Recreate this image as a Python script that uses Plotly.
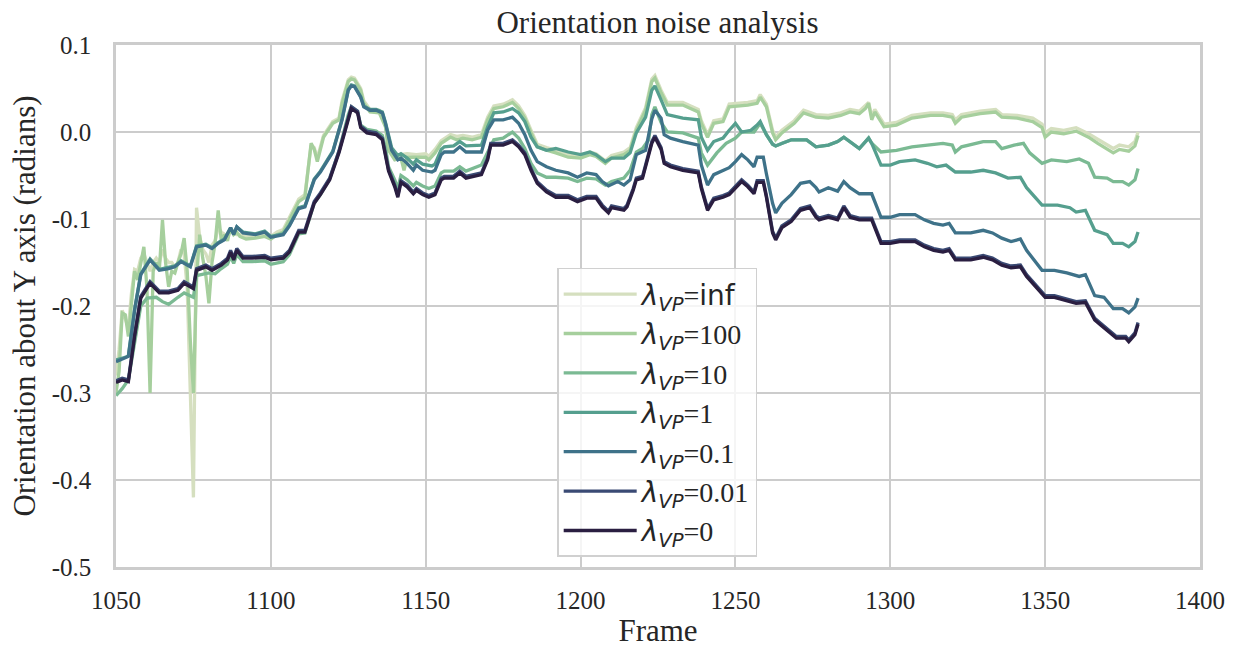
import plotly.graph_objects as go

# ---- data (frame, orientation) ----
pts_inf = [
    (1050, -0.280), (1051, -0.250), (1052, -0.205), (1053, -0.215), (1054, -0.225), (1055, -0.185),
    (1056, -0.158), (1057, -0.160), (1058, -0.145), (1059, -0.140), (1060, -0.150), (1061, -0.160),
    (1062, -0.150), (1063, -0.145), (1064, -0.150), (1065, -0.135), (1066, -0.145), (1067, -0.150),
    (1068, -0.150), (1069, -0.155), (1070, -0.150), (1071, -0.135), (1072, -0.140), (1073, -0.180),
    (1074, -0.300), (1075, -0.420), (1076, -0.087), (1077, -0.120), (1078, -0.135), (1079, -0.140),
    (1080, -0.150), (1081, -0.130), (1082, -0.125), (1083, -0.110), (1084, -0.115), (1085, -0.118),
    (1086, -0.120), (1087, -0.112), (1088, -0.115), (1089, -0.118), (1090, -0.118),
    (1092, -0.120), (1095, -0.119), (1098, -0.117), (1100, -0.120), (1102, -0.115), (1104, -0.112),
    (1106, -0.098), (1109, -0.077), (1111, -0.072), (1112, -0.045), (1113, -0.015), (1114, -0.018),
    (1115, -0.030), (1117, -0.004), (1120, 0.012), (1122, 0.016), (1123, 0.036), (1125, 0.060),
    (1126, 0.063), (1127, 0.062), (1129, 0.050), (1130, 0.036), (1132, 0.026), (1135, 0.025),
    (1137, 0.009), (1138, -0.018), (1140, -0.028), (1142, -0.026), (1144, -0.025), (1147, -0.026),
    (1150, -0.025), (1151, -0.028), (1153, -0.020), (1155, -0.010), (1158, -0.003), (1160, -0.005),
    (1162, -0.004), (1165, -0.006), (1168, -0.003), (1170, 0.017), (1172, 0.030), (1175, 0.032),
    (1178, 0.037), (1180, 0.030), (1182, 0.019), (1184, 0.002), (1186, -0.014), (1189, -0.018),
    (1192, -0.021), (1196, -0.026), (1200, -0.027), (1203, -0.023), (1205, -0.025), (1208, -0.033),
    (1210, -0.027), (1214, -0.023), (1216, -0.018), (1218, 0.005), (1219, 0.013), (1221, 0.028),
    (1223, 0.061), (1224, 0.065), (1226, 0.048), (1228, 0.034), (1233, 0.034), (1238, 0.026),
    (1239, 0.013), (1241, -0.003), (1243, 0.013), (1246, 0.015), (1248, 0.032), (1254, 0.034),
    (1257, 0.036), (1258, 0.043), (1260, 0.032), (1262, 0.002), (1263, -0.006), (1265, 0.002),
    (1269, 0.013), (1272, 0.025), (1276, 0.020), (1280, 0.019), (1284, 0.022), (1287, 0.026),
    (1290, 0.024), (1292, 0.030), (1293, 0.034), (1294, 0.018), (1295, 0.026), (1298, 0.009),
    (1302, 0.011), (1307, 0.019), (1313, 0.022), (1317, 0.022), (1320, 0.020), (1321, 0.014),
    (1323, 0.020), (1329, 0.024), (1334, 0.026), (1336, 0.020), (1341, 0.019), (1346, 0.016),
    (1349, 0.009), (1350, -0.001), (1352, 0.004), (1356, 0.002), (1360, 0.005), (1364, -0.002),
    (1367, -0.008), (1370, -0.014), (1372, -0.019), (1374, -0.015), (1377, -0.017), (1379, -0.011),
    (1380, 0.000),
]

pts_100 = [
    (1050, -0.300), (1051, -0.275), (1052, -0.208), (1053, -0.210), (1054, -0.235), (1055, -0.195),
    (1056, -0.160), (1057, -0.170), (1058, -0.150), (1059, -0.132), (1060, -0.180), (1061, -0.300),
    (1062, -0.160), (1063, -0.150), (1064, -0.158), (1065, -0.101), (1066, -0.150), (1067, -0.178),
    (1068, -0.160), (1069, -0.162), (1070, -0.150), (1071, -0.140), (1072, -0.122), (1073, -0.160),
    (1074, -0.240), (1075, -0.300), (1076, -0.170), (1077, -0.118), (1078, -0.145), (1079, -0.165),
    (1080, -0.197), (1081, -0.150), (1082, -0.128), (1083, -0.090), (1084, -0.125), (1085, -0.118),
    (1086, -0.125), (1087, -0.110), (1088, -0.118), (1089, -0.115), (1090, -0.120),
    (1092, -0.123), (1095, -0.122), (1098, -0.120), (1100, -0.123), (1102, -0.118), (1104, -0.115),
    (1106, -0.101), (1109, -0.080), (1111, -0.075), (1112, -0.040), (1113, -0.013), (1114, -0.020),
    (1115, -0.034), (1117, -0.006), (1120, 0.010), (1122, 0.014), (1123, 0.033), (1125, 0.058),
    (1126, 0.061), (1127, 0.060), (1129, 0.048), (1130, 0.033), (1132, 0.023), (1135, 0.022),
    (1137, 0.006), (1138, -0.021), (1140, -0.032), (1142, -0.030), (1143, -0.044), (1144, -0.029),
    (1147, -0.029), (1150, -0.029), (1151, -0.032), (1153, -0.024), (1155, -0.013), (1158, -0.006),
    (1160, -0.009), (1162, -0.007), (1165, -0.009), (1168, -0.006), (1170, 0.014), (1172, 0.027),
    (1175, 0.029), (1178, 0.034), (1180, 0.027), (1182, 0.016), (1184, -0.001), (1186, -0.017),
    (1189, -0.021), (1192, -0.024), (1196, -0.029), (1200, -0.030), (1203, -0.026), (1205, -0.028),
    (1208, -0.036), (1210, -0.030), (1214, -0.026), (1216, -0.021), (1218, 0.002), (1219, 0.010),
    (1221, 0.025), (1223, 0.058), (1224, 0.062), (1226, 0.045), (1228, 0.031), (1233, 0.031),
    (1238, 0.023), (1239, 0.010), (1241, -0.006), (1243, 0.010), (1246, 0.012), (1248, 0.029),
    (1254, 0.031), (1257, 0.033), (1258, 0.040), (1260, 0.029), (1262, -0.001), (1263, -0.009),
    (1265, -0.001), (1269, 0.010), (1272, 0.022), (1276, 0.017), (1280, 0.016), (1284, 0.019),
    (1287, 0.023), (1290, 0.021), (1292, 0.027), (1293, 0.033), (1294, 0.014), (1295, 0.023),
    (1298, 0.006), (1302, 0.008), (1307, 0.016), (1313, 0.019), (1317, 0.019), (1320, 0.017),
    (1321, 0.010), (1323, 0.017), (1329, 0.021), (1334, 0.023), (1336, 0.017), (1341, 0.016),
    (1346, 0.012), (1349, 0.005), (1350, -0.006), (1352, 0.000), (1356, -0.002), (1360, 0.001),
    (1364, -0.006), (1367, -0.013), (1370, -0.019), (1372, -0.024), (1374, -0.020), (1377, -0.022),
    (1379, -0.016), (1380, -0.004),
]

pts_10 = [
    (1050, -0.303), (1052, -0.295), (1054, -0.285), (1056, -0.240), (1058, -0.200), (1060, -0.191),
    (1063, -0.190), (1065, -0.195), (1067, -0.198), (1070, -0.190), (1072, -0.185), (1075, -0.190),
    (1076, -0.165), (1080, -0.162), (1082, -0.163), (1084, -0.157), (1086, -0.152), (1087, -0.143),
    (1088, -0.151), (1089, -0.141), (1091, -0.149), (1094, -0.149), (1098, -0.148), (1100, -0.152),
    (1104, -0.149), (1106, -0.141), (1109, -0.117), (1111, -0.116), (1114, -0.082), (1116, -0.072),
    (1119, -0.054), (1122, -0.022), (1125, 0.020), (1126, 0.029), (1128, 0.024), (1129, 0.008),
    (1131, 0.003), (1134, 0.001), (1136, -0.004), (1137, -0.018), (1138, -0.040), (1140, -0.055),
    (1141, -0.065), (1142, -0.050), (1144, -0.055), (1146, -0.062), (1147, -0.058), (1149, -0.062),
    (1151, -0.065), (1153, -0.062), (1155, -0.047), (1156, -0.045), (1159, -0.045), (1161, -0.040),
    (1163, -0.045), (1168, -0.038), (1170, -0.024), (1172, -0.009), (1175, -0.007), (1178, 0.000),
    (1180, -0.007), (1182, -0.019), (1184, -0.036), (1186, -0.047), (1189, -0.052), (1192, -0.052),
    (1196, -0.053), (1199, -0.057), (1202, -0.053), (1205, -0.054), (1208, -0.061), (1210, -0.057),
    (1214, -0.053), (1216, -0.044), (1218, -0.023), (1220, -0.019), (1222, -0.009), (1223, 0.020),
    (1224, 0.029), (1226, 0.011), (1228, 0.000), (1233, -0.001), (1238, -0.007), (1239, -0.024),
    (1241, -0.038), (1244, -0.024), (1247, -0.013), (1250, -0.007), (1252, 0.000), (1256, 0.000),
    (1258, 0.010), (1260, -0.003), (1262, -0.014), (1263, -0.016), (1265, -0.013), (1268, -0.009),
    (1273, -0.009), (1276, -0.017), (1280, -0.015), (1283, -0.011), (1285, -0.006), (1290, -0.019),
    (1293, -0.007), (1294, -0.013), (1297, -0.023), (1302, -0.021), (1307, -0.017), (1313, -0.015),
    (1317, -0.013), (1320, -0.015), (1321, -0.023), (1323, -0.017), (1330, -0.011), (1334, -0.011),
    (1336, -0.019), (1340, -0.015), (1343, -0.013), (1345, -0.024), (1349, -0.036), (1352, -0.032),
    (1357, -0.034), (1361, -0.031), (1364, -0.036), (1366, -0.052), (1370, -0.053), (1372, -0.057),
    (1375, -0.057), (1377, -0.061), (1379, -0.055), (1380, -0.042),
]

pts_1 = [
    (1050, -0.262), (1053, -0.259), (1054, -0.257), (1056, -0.204), (1058, -0.163), (1061, -0.146),
    (1064, -0.158), (1067, -0.156), (1069, -0.154), (1071, -0.148), (1074, -0.154), (1076, -0.131),
    (1079, -0.129), (1081, -0.133), (1083, -0.127), (1085, -0.123), (1087, -0.110), (1088, -0.117),
    (1089, -0.109), (1091, -0.115), (1095, -0.117), (1098, -0.114), (1100, -0.120), (1104, -0.117),
    (1106, -0.107), (1109, -0.087), (1111, -0.085), (1114, -0.054), (1116, -0.045), (1120, -0.022),
    (1123, 0.015), (1125, 0.049), (1126, 0.054), (1127, 0.053), (1129, 0.041), (1130, 0.030),
    (1132, 0.026), (1134, 0.026), (1136, 0.023), (1137, 0.011), (1139, -0.018), (1141, -0.027),
    (1142, -0.025), (1144, -0.030), (1146, -0.037), (1147, -0.032), (1149, -0.037), (1152, -0.039),
    (1153, -0.037), (1155, -0.020), (1156, -0.017), (1159, -0.016), (1161, -0.011), (1163, -0.016),
    (1168, -0.015), (1170, 0.006), (1172, 0.022), (1175, 0.023), (1178, 0.027), (1180, 0.022),
    (1182, 0.012), (1184, -0.006), (1186, -0.017), (1189, -0.021), (1192, -0.019), (1196, -0.023),
    (1200, -0.026), (1203, -0.023), (1205, -0.026), (1208, -0.034), (1210, -0.030), (1214, -0.030),
    (1216, -0.024), (1218, -0.001), (1219, 0.005), (1221, 0.017), (1223, 0.048), (1224, 0.053),
    (1226, 0.037), (1228, 0.020), (1233, 0.016), (1238, 0.014), (1239, -0.006), (1241, -0.021),
    (1243, -0.011), (1246, -0.007), (1248, 0.002), (1250, 0.010), (1252, 0.000), (1255, 0.002),
    (1257, 0.008), (1258, 0.012), (1260, -0.003), (1262, -0.014), (1263, -0.016), (1265, -0.013),
    (1268, -0.009), (1273, -0.009), (1276, -0.017), (1280, -0.015), (1283, -0.011), (1285, -0.006),
    (1290, -0.019), (1293, -0.007), (1294, -0.013), (1297, -0.038), (1300, -0.038), (1303, -0.034),
    (1308, -0.032), (1312, -0.036), (1315, -0.040), (1318, -0.038), (1321, -0.046), (1326, -0.046),
    (1330, -0.044), (1334, -0.047), (1338, -0.053), (1342, -0.052), (1344, -0.064), (1349, -0.084),
    (1354, -0.084), (1358, -0.087), (1360, -0.092), (1363, -0.090), (1366, -0.113), (1370, -0.118),
    (1372, -0.128), (1375, -0.128), (1377, -0.132), (1379, -0.126), (1380, -0.115),
]

pts_01 = [
    (1050, -0.264), (1053, -0.260), (1054, -0.258), (1056, -0.205), (1058, -0.164), (1061, -0.147),
    (1064, -0.159), (1067, -0.157), (1069, -0.155), (1071, -0.149), (1074, -0.155), (1076, -0.132),
    (1079, -0.130), (1081, -0.134), (1083, -0.128), (1085, -0.124), (1087, -0.110), (1088, -0.118),
    (1089, -0.109), (1091, -0.116), (1095, -0.118), (1098, -0.115), (1100, -0.121), (1104, -0.118),
    (1106, -0.108), (1109, -0.088), (1111, -0.086), (1114, -0.055), (1116, -0.046), (1120, -0.023),
    (1123, 0.014), (1125, 0.048), (1126, 0.053), (1127, 0.052), (1129, 0.040), (1130, 0.029),
    (1132, 0.025), (1134, 0.025), (1136, 0.022), (1137, 0.010), (1139, -0.021), (1141, -0.032),
    (1142, -0.030), (1144, -0.036), (1146, -0.044), (1147, -0.038), (1149, -0.044), (1152, -0.046),
    (1153, -0.044), (1155, -0.026), (1156, -0.023), (1159, -0.023), (1161, -0.017), (1163, -0.023),
    (1168, -0.023), (1170, 0.002), (1172, 0.014), (1175, 0.014), (1178, 0.017), (1180, 0.010),
    (1182, -0.003), (1184, -0.021), (1186, -0.034), (1189, -0.040), (1192, -0.044), (1196, -0.047),
    (1199, -0.052), (1202, -0.047), (1205, -0.049), (1207, -0.057), (1209, -0.062), (1212, -0.057),
    (1214, -0.061), (1216, -0.055), (1218, -0.026), (1221, -0.021), (1223, 0.015), (1224, 0.025),
    (1226, 0.016), (1227, -0.003), (1229, -0.007), (1233, -0.011), (1238, -0.015), (1239, -0.038),
    (1241, -0.061), (1243, -0.049), (1246, -0.044), (1248, -0.041), (1250, -0.034), (1252, -0.026),
    (1254, -0.032), (1256, -0.040), (1257, -0.029), (1259, -0.029), (1260, -0.048), (1262, -0.082),
    (1263, -0.093), (1265, -0.082), (1268, -0.072), (1271, -0.059), (1274, -0.057), (1276, -0.064),
    (1277, -0.069), (1280, -0.064), (1283, -0.068), (1285, -0.057), (1287, -0.064), (1290, -0.071),
    (1294, -0.071), (1297, -0.098), (1300, -0.098), (1303, -0.095), (1308, -0.095), (1311, -0.101),
    (1314, -0.105), (1317, -0.107), (1319, -0.105), (1321, -0.116), (1326, -0.116), (1330, -0.113),
    (1333, -0.116), (1336, -0.122), (1339, -0.126), (1342, -0.123), (1344, -0.136), (1349, -0.159),
    (1353, -0.159), (1357, -0.162), (1361, -0.166), (1363, -0.164), (1366, -0.188), (1369, -0.190),
    (1372, -0.203), (1375, -0.203), (1377, -0.208), (1379, -0.201), (1380, -0.191),
]

pts_001 = [
    (1050, -0.286), (1052, -0.283), (1054, -0.285), (1056, -0.233), (1058, -0.189), (1061, -0.172),
    (1064, -0.183), (1067, -0.183), (1070, -0.180), (1072, -0.172), (1075, -0.178), (1076, -0.157),
    (1079, -0.153), (1081, -0.157), (1084, -0.151), (1086, -0.145), (1087, -0.136), (1088, -0.145),
    (1089, -0.134), (1091, -0.143), (1094, -0.143), (1098, -0.142), (1100, -0.145), (1104, -0.143),
    (1106, -0.136), (1109, -0.113), (1111, -0.113), (1114, -0.080), (1116, -0.070), (1119, -0.053),
    (1122, -0.022), (1125, 0.019), (1126, 0.029), (1128, 0.024), (1129, 0.007), (1131, 0.001),
    (1134, -0.001), (1136, -0.007), (1137, -0.023), (1138, -0.043), (1140, -0.061), (1141, -0.073),
    (1142, -0.056), (1144, -0.061), (1146, -0.069), (1147, -0.065), (1149, -0.070), (1151, -0.073),
    (1153, -0.070), (1155, -0.053), (1156, -0.051), (1159, -0.051), (1161, -0.045), (1163, -0.051),
    (1168, -0.047), (1170, -0.030), (1171, -0.013), (1175, -0.013), (1178, -0.009), (1180, -0.015),
    (1182, -0.024), (1184, -0.042), (1186, -0.057), (1189, -0.067), (1192, -0.073), (1196, -0.073),
    (1199, -0.078), (1202, -0.074), (1205, -0.074), (1207, -0.084), (1209, -0.091), (1210, -0.085),
    (1214, -0.088), (1215, -0.084), (1217, -0.065), (1218, -0.053), (1220, -0.051), (1223, -0.011),
    (1224, -0.004), (1226, -0.018), (1227, -0.034), (1229, -0.038), (1233, -0.042), (1238, -0.045),
    (1239, -0.063), (1241, -0.088), (1243, -0.076), (1246, -0.073), (1248, -0.070), (1250, -0.062),
    (1252, -0.055), (1254, -0.061), (1256, -0.069), (1257, -0.056), (1259, -0.056), (1260, -0.073),
    (1262, -0.114), (1263, -0.122), (1265, -0.108), (1268, -0.101), (1271, -0.088), (1274, -0.085),
    (1276, -0.096), (1277, -0.099), (1280, -0.096), (1283, -0.099), (1285, -0.085), (1287, -0.096),
    (1290, -0.099), (1294, -0.099), (1297, -0.126), (1300, -0.126), (1303, -0.124), (1308, -0.124),
    (1311, -0.130), (1314, -0.134), (1317, -0.136), (1319, -0.134), (1321, -0.145), (1326, -0.145),
    (1330, -0.142), (1333, -0.145), (1336, -0.151), (1339, -0.154), (1342, -0.153), (1344, -0.164),
    (1347, -0.176), (1350, -0.188), (1353, -0.188), (1357, -0.192), (1360, -0.195), (1363, -0.194),
    (1366, -0.214), (1368, -0.220), (1370, -0.226), (1373, -0.235), (1376, -0.235), (1377, -0.239),
    (1379, -0.231), (1380, -0.219),
]

pts_0 = [
    (1050, -0.288), (1052, -0.285), (1054, -0.287), (1056, -0.235), (1058, -0.191), (1061, -0.174),
    (1064, -0.185), (1067, -0.185), (1070, -0.182), (1072, -0.174), (1075, -0.180), (1076, -0.159),
    (1079, -0.155), (1081, -0.159), (1084, -0.153), (1086, -0.147), (1087, -0.138), (1088, -0.147),
    (1089, -0.136), (1091, -0.145), (1094, -0.145), (1098, -0.144), (1100, -0.147), (1104, -0.145),
    (1106, -0.138), (1109, -0.115), (1111, -0.115), (1114, -0.082), (1116, -0.072), (1119, -0.055),
    (1122, -0.024), (1125, 0.017), (1126, 0.027), (1128, 0.022), (1129, 0.005), (1131, -0.001),
    (1134, -0.003), (1136, -0.009), (1137, -0.025), (1138, -0.045), (1140, -0.063), (1141, -0.075),
    (1142, -0.058), (1144, -0.063), (1146, -0.071), (1147, -0.067), (1149, -0.072), (1151, -0.075),
    (1153, -0.072), (1155, -0.055), (1156, -0.053), (1159, -0.053), (1161, -0.047), (1163, -0.053),
    (1168, -0.049), (1170, -0.032), (1171, -0.015), (1175, -0.015), (1178, -0.011), (1180, -0.017),
    (1182, -0.026), (1184, -0.044), (1186, -0.059), (1189, -0.069), (1192, -0.075), (1196, -0.075),
    (1199, -0.080), (1202, -0.076), (1205, -0.076), (1207, -0.086), (1209, -0.093), (1210, -0.087),
    (1214, -0.090), (1215, -0.086), (1217, -0.067), (1218, -0.055), (1220, -0.053), (1223, -0.013),
    (1224, -0.006), (1226, -0.020), (1227, -0.036), (1229, -0.040), (1233, -0.044), (1238, -0.047),
    (1239, -0.065), (1241, -0.090), (1243, -0.078), (1246, -0.075), (1248, -0.072), (1250, -0.064),
    (1252, -0.057), (1254, -0.063), (1256, -0.071), (1257, -0.058), (1259, -0.058), (1260, -0.075),
    (1262, -0.116), (1263, -0.124), (1265, -0.110), (1268, -0.103), (1271, -0.090), (1274, -0.087),
    (1276, -0.098), (1277, -0.101), (1280, -0.098), (1283, -0.101), (1285, -0.087), (1287, -0.098),
    (1290, -0.101), (1294, -0.101), (1297, -0.128), (1300, -0.128), (1303, -0.126), (1308, -0.126),
    (1311, -0.132), (1314, -0.136), (1317, -0.138), (1319, -0.136), (1321, -0.147), (1326, -0.147),
    (1330, -0.144), (1333, -0.147), (1336, -0.153), (1339, -0.156), (1342, -0.155), (1344, -0.166),
    (1347, -0.178), (1350, -0.190), (1353, -0.190), (1357, -0.194), (1360, -0.197), (1363, -0.196),
    (1366, -0.216), (1368, -0.222), (1370, -0.228), (1373, -0.237), (1376, -0.237), (1377, -0.241),
    (1379, -0.233), (1380, -0.221),
]

series_labels = ["inf", "100", "10", "1", "0.1", "0.01", "0"]
series_points = [pts_inf, pts_100, pts_10, pts_1, pts_01, pts_001, pts_0]
series_colors = ["#d5dfbf", "#a6cf9d", "#7bba93", "#559f8e", "#3e7289", "#3a4a74", "#2a1e41"]

x_ticks = [1050, 1100, 1150, 1200, 1250, 1300, 1350, 1400]
y_ticks = [0.1, 0.0, -0.1, -0.2, -0.3, -0.4, -0.5]
y_ticktext = ["0.1", "0.0", "-0.1", "-0.2", "-0.3", "-0.4", "-0.5"]

SERIF = "Liberation Serif, Times New Roman, serif"
SANS = "DejaVu Sans"
TXT = "#262626"

fig = go.Figure()
for lab, pts, col in zip(series_labels, series_points, series_colors):
    xs = [p[0] for p in pts]
    ys = [p[1] for p in pts]
    if lab == "inf":
        val = f'<span style="font-family:{SANS}">{lab}</span>'
    else:
        val = lab
    name = f'<span style="font-family:{SANS}"><i>λ</i><sub><i>VP</i></sub></span>=' + val
    fig.add_trace(go.Scatter(x=xs, y=ys, mode="lines", name=name,
                             line=dict(color=col, width=3.3)))

fig.update_layout(
    width=1237, height=648,
    margin=dict(l=116, r=37, t=45, b=81, autoexpand=False),
    paper_bgcolor="white", plot_bgcolor="white",
    font=dict(family=SERIF, size=25, color=TXT),
    title=dict(text="Orientation noise analysis", x=0.5315, xanchor="center",
               y=0.966, yanchor="middle", font=dict(family=SERIF, size=31, color=TXT)),
    showlegend=True,
    legend=dict(x=0.407, y=0.573, xanchor="left", yanchor="top",
                bgcolor="rgba(255,255,255,0.8)", bordercolor="#d0d0d0", borderwidth=1.5,
                font=dict(family=SERIF, size=28, color=TXT),
                tracegroupgap=0, itemwidth=73),
)
fig.update_xaxes(range=[1050, 1400], tickvals=x_ticks, ticktext=[str(t) for t in x_ticks],
                 automargin=False,
                 showgrid=True, gridcolor="#cccccc", gridwidth=1.5,
                 showline=True, linecolor="#cccccc", linewidth=2.5, mirror=True,
                 zeroline=False, ticks="outside", ticklen=9, tickcolor="rgba(0,0,0,0)",
                 tickfont=dict(family=SERIF, size=25, color=TXT),
                 title=dict(text="Frame", font=dict(family=SERIF, size=31, color=TXT), standoff=8))
fig.update_yaxes(range=[-0.5, 0.1], tickvals=y_ticks, ticktext=y_ticktext,
                 automargin=False,
                 showgrid=True, gridcolor="#cccccc", gridwidth=1.5,
                 showline=True, linecolor="#cccccc", linewidth=2.5, mirror=True,
                 zeroline=False, ticks="outside", ticklen=17, tickcolor="rgba(0,0,0,0)",
                 tickfont=dict(family=SERIF, size=25, color=TXT),
                 title=dict(text="Orientation about Y axis (radians)",
                            font=dict(family=SERIF, size=31, color=TXT), standoff=7))

fig.write_html("out.html")
